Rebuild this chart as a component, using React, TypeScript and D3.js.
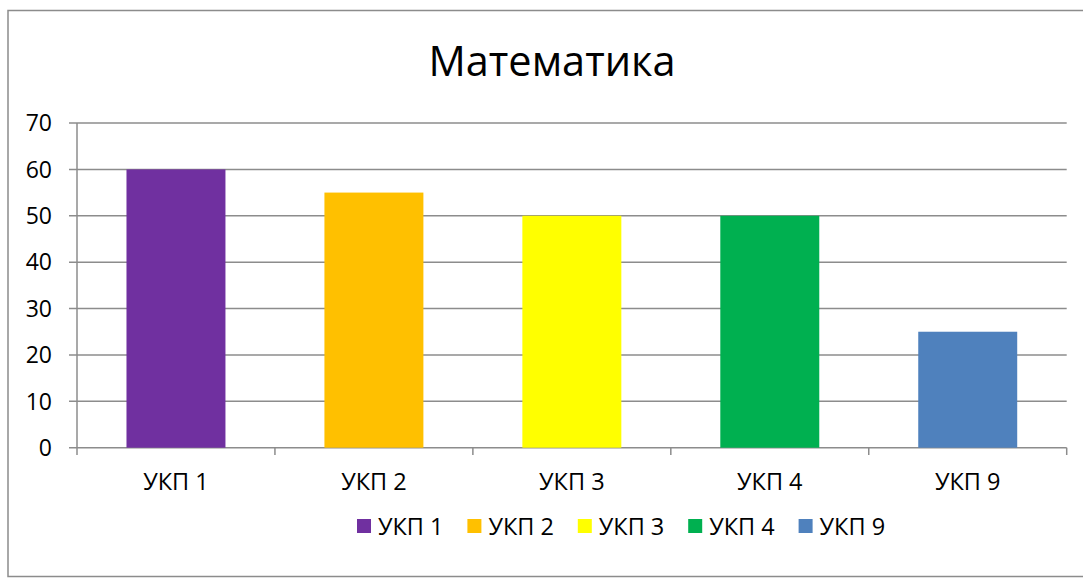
import React from 'react';
import * as d3 from 'd3';

const title = 'Математика';
const categories = ['УКП 1', 'УКП 2', 'УКП 3', 'УКП 4', 'УКП 9'];
const values = [60, 55, 50, 50, 25];
const colors = ['#7030A0', '#FFC000', '#FFFF00', '#00B050', '#4F81BD'];
const yTicks = [0, 10, 20, 30, 40, 50, 60, 70];

const W = 1083;
const H = 579;
const font = '"Open Sans", "Liberation Sans", sans-serif';
const gridColor = '#8c8c8c';

const plot = { left: 77, right: 1066.7, top: 123, bottom: 447.7 };

const App: React.FC = () => {
  const x = d3
    .scaleBand<string>()
    .domain(categories)
    .range([plot.left, plot.right])
    .paddingInner(0.5)
    .paddingOuter(0.25);
  const xOuter = d3.scaleBand<string>().domain(categories).range([plot.left, plot.right]);
  const y = d3.scaleLinear().domain([0, 70]).range([plot.bottom, plot.top]);

  const legendX0 = 357;
  const legendStep = 110.4;

  return (
    <svg
      width={W}
      height={H}
      style={{ position: 'absolute', left: 0, top: 0, background: '#fff' }}
      fontFamily={font}
    >
      <rect x={8} y={10.5} width={W} height={566} fill="#fff" stroke={gridColor} strokeWidth={1.5} />
      <text x={552} y={76} textAnchor="middle" fontSize={41.5} fill="#000">
        {title}
      </text>

      {yTicks.map(t => (
        <g key={t}>
          <line x1={69} x2={plot.right} y1={y(t)} y2={y(t)} stroke={gridColor} strokeWidth={1.5} />
          <text x={52} y={y(t)} dy="0.36em" textAnchor="end" fontSize={23} fill="#000">
            {t}
          </text>
        </g>
      ))}

      <line x1={plot.left} x2={plot.left} y1={plot.top} y2={455} stroke={gridColor} strokeWidth={1.5} />
      {categories.map(c => (
        <line
          key={'t' + c}
          x1={(xOuter(c) ?? 0) + xOuter.bandwidth()}
          x2={(xOuter(c) ?? 0) + xOuter.bandwidth()}
          y1={plot.bottom}
          y2={455}
          stroke={gridColor}
          strokeWidth={1.5}
        />
      ))}

      {categories.map((c, i) => (
        <rect
          key={c}
          x={x(c)}
          y={y(values[i])}
          width={x.bandwidth()}
          height={plot.bottom - y(values[i])}
          fill={colors[i]}
        />
      ))}

      {categories.map(c => (
        <text
          key={'l' + c}
          x={(x(c) ?? 0) + x.bandwidth() / 2}
          y={489.5}
          textAnchor="middle"
          fontSize={23.5}
          fill="#000"
        >
          {c}
        </text>
      ))}

      {categories.map((c, i) => (
        <g key={'lg' + c} transform={`translate(${legendX0 + i * legendStep},0)`}>
          <rect x={0} y={519} width={14} height={14} fill={colors[i]} />
          <text x={21} y={534.5} fontSize={23.5} fill="#000">
            {c}
          </text>
        </g>
      ))}
    </svg>
  );
};

export default App;
